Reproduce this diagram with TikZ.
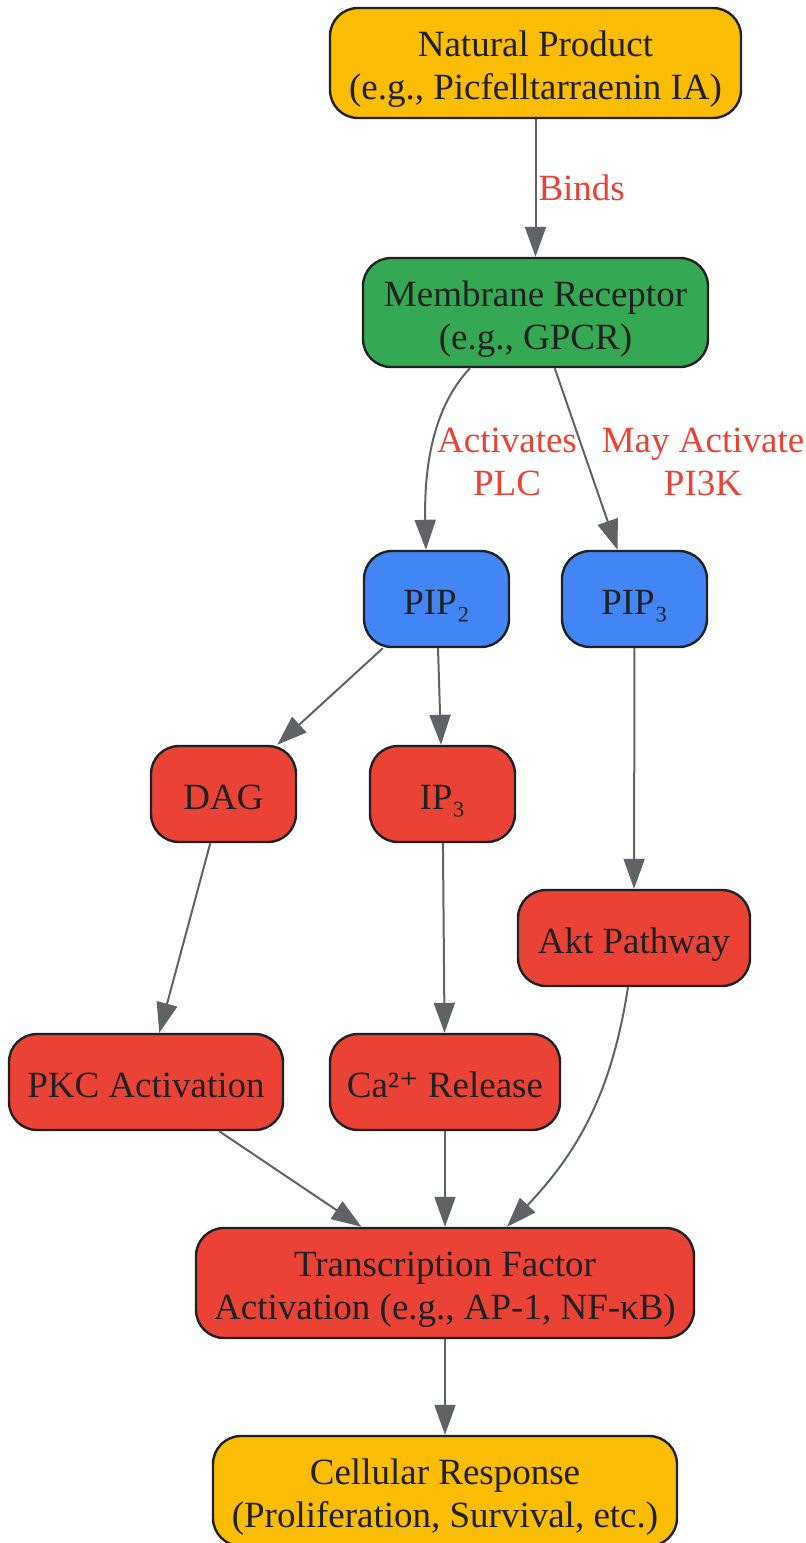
\documentclass[tikz,border=0pt]{standalone}
\usepackage{fontspec}
\setmainfont{Liberation Serif}
\newfontfamily\symfont{DejaVu Serif}
\usepackage{tikz}
\usetikzlibrary{arrows.meta,calc}
\definecolor{yl}{RGB}{251,188,4}
\definecolor{gn}{RGB}{52,168,83}
\definecolor{bl}{RGB}{66,133,244}
\definecolor{rd}{RGB}{234,67,53}
\definecolor{ink}{RGB}{32,33,36}
\definecolor{ar}{RGB}{95,99,104}
\tikzset{
  box/.style={draw=ink, line width=1.2pt, rounded corners=14pt, text=ink, align=center,
    inner sep=0pt, font=\fontsize{18.5}{21.5}\selectfont},
  oneline/.style={text height=15.2pt, text depth=0pt, minimum height=48pt},
  twoline/.style={text height=36.5pt, text depth=0pt, minimum height=55pt},
  edge/.style={draw=ar, line width=1pt, -{Triangle[length=15pt,width=10.5pt]}},
  lbl/.style={text=rd, align=center, inner sep=1pt, font=\fontsize{18.5}{21.5}\selectfont}
}

\begin{document}
\begin{tikzpicture}[x=0.5pt,y=-0.5pt]
\useasboundingbox (0,0) rectangle (806,1543);
\node[box, twoline, fill=yl, minimum width=205.5pt] (np) at (535.5,63) {Natural Product\\(e.g., Picfelltarraenin IA)};
\node[box, twoline, fill=gn, minimum width=172.5pt, minimum height=54.5pt] (mr) at (535.5,312.5) {Membrane Receptor\\(e.g., GPCR)};
\node[box, oneline, fill=bl, minimum width=72.5pt] (pip2) at (436.5,599) {PIP₂};
\node[box, oneline, fill=bl, minimum width=72.5pt] (pip3) at (634.5,599) {PIP₃};
\node[box, oneline, fill=rd, minimum width=72.5pt] (dag) at (223.5,794) {DAG};
\node[box, oneline, fill=rd, minimum width=72.5pt] (ip3) at (442.5,794) {IP₃};
\node[box, oneline, fill=rd, minimum width=116pt] (akt) at (634,938) {Akt Pathway};
\node[box, oneline, fill=rd, minimum width=137pt] (pkc) at (146,1082) {PKC Activation};
\node[box, oneline, fill=rd, minimum width=115pt] (ca) at (445,1082) {Ca²{\symfont ⁺} Release};
\node[box, twoline, fill=rd, minimum width=249pt] (tf) at (445,1283) {Transcription Factor\\Activation (e.g., AP-1, NF-κB)};
\node[box, twoline, fill=yl, minimum width=232pt] (cr) at (445,1491) {Cellular Response\\(Proliferation, Survival, etc.)};

\draw[edge] (np) -- node[lbl, right] {Binds} (mr);
\draw[edge] ($(mr.south)+(-65.5,0)$) .. controls (432,408) and (424,470) .. ($(pip2.north)+(-10.5,0)$);
\draw[edge] (mr) -- (pip3);
\node[lbl] (plc) at (507,462) {Activates\\PLC};
\node[lbl] (pi3k) at (703,462) {May Activate\\PI3K};
\draw[edge] (pip2) -- (dag);
\draw[edge] (pip2) -- (ip3);
\draw[edge] (pip3) -- (akt);
\draw[edge] (dag) -- (pkc);
\draw[edge] (ip3) -- (ca);
\draw[edge] ($(akt.south)+(-6,0)$) .. controls (612,1090) and (580,1150) .. ($(tf.north)+(62,0)$);
\draw[edge] (pkc) -- (tf);
\draw[edge] (ca) -- (tf);
\draw[edge] (tf) -- (cr);
\end{tikzpicture}
\end{document}
